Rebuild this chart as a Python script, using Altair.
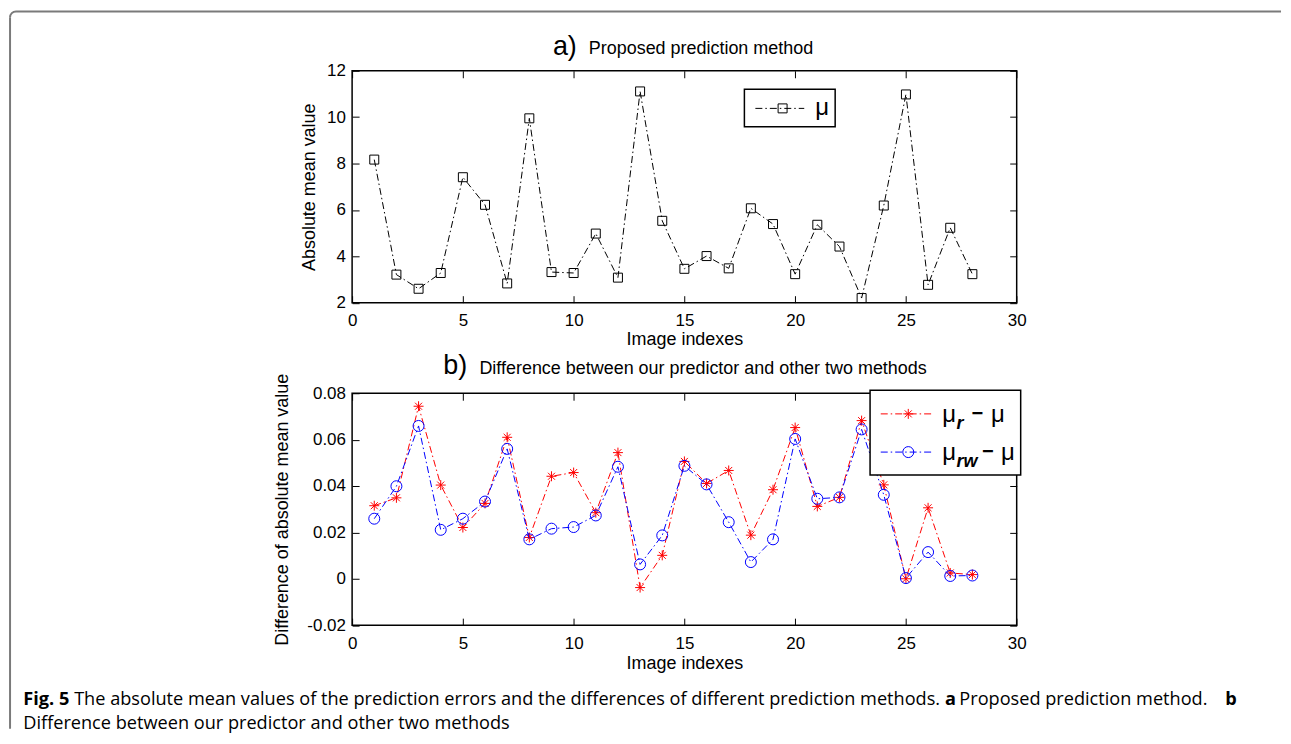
import altair as alt
import pandas as pd

# ---------------- data ----------------
idx = list(range(1, 29))
mu = [8.17, 3.21, 2.60, 3.28, 7.41, 6.22, 2.83, 9.95, 3.32, 3.28, 4.98, 3.08, 11.11, 5.53,
      3.46, 4.01, 3.48, 6.07, 5.39, 3.23, 5.36, 4.42, 2.20, 6.19, 10.98, 2.77, 5.23, 3.23]
mu_r_diff = [0.0315, 0.0349, 0.0744, 0.0404, 0.0221, 0.0325, 0.0610, 0.0178, 0.0442, 0.0458,
             0.0285, 0.0544, -0.0038, 0.0101, 0.0506, 0.0411, 0.0467, 0.0188, 0.0384, 0.0652,
             0.0312, 0.0351, 0.0682, 0.0405, 0.0000, 0.0306, 0.0025, 0.0018]
mu_rw_diff = [0.0259, 0.0399, 0.0659, 0.0211, 0.0259, 0.0333, 0.0560, 0.0170, 0.0216, 0.0223,
              0.0273, 0.0483, 0.0062, 0.0187, 0.0487, 0.0407, 0.0244, 0.0072, 0.0170, 0.0603,
              0.0345, 0.0351, 0.0644, 0.0362, 0.0003, 0.0115, 0.0012, 0.0014]
x_ticks = [0, 5, 10, 15, 20, 25, 30]
top_y_ticks = [2, 4, 6, 8, 10, 12]
bot_y_ticks = [-0.02, 0, 0.02, 0.04, 0.06, 0.08]

title_a = "a)"
title_a_text = "Proposed prediction method"
title_b = "b)"
title_b_text = "Difference between our predictor and other two methods"
x_title = "Image indexes"
y_title_top = "Absolute mean value"
y_title_bot = "Difference of absolute mean value"
caption_fig = "Fig. 5"
caption_main = "The absolute mean values of the prediction errors and the differences of different prediction methods."
caption_a = "a"
caption_a_text = "Proposed prediction method."
caption_b = "b"
caption_line2 = "Difference between our predictor and other two methods"

# ---------------- styling ----------------
FONT = "Liberation Sans"
CAP_FONT = "Open Sans"
CAP_SIZE = 18.2
W, H = 666.3, 232.5
DASHDOT = [7, 3, 1.5, 3]
ASTERISK = "M-1,0L1,0M0,-1L0,1M-0.7,-0.7L0.7,0.7M-0.7,0.7L0.7,-0.7"
INWARD = {"expr": "-7"}

one = pd.DataFrame({"k": [0]})


def txt(text, x, y, size, weight="normal", style="normal", align="left",
        baseline="alphabetic", font=FONT, color="black"):
    return alt.Chart(one).mark_text(
        text=text, fontSize=size, fontWeight=weight, fontStyle=style, align=align,
        baseline=baseline, font=font, color=color
    ).encode(x=alt.value(x), y=alt.value(y))


def hrule(x1, x2, y, color, dash=None, width=1.0):
    kw = dict(color=color, strokeWidth=width)
    if dash:
        kw["strokeDash"] = dash
    return alt.Chart(one).mark_rule(**kw).encode(
        x=alt.value(x1), x2=alt.value(x2), y=alt.value(y))


def vrule(x, y1, y2, color, width=1.0):
    return alt.Chart(one).mark_rule(color=color, strokeWidth=width).encode(
        x=alt.value(x), y=alt.value(y1), y2=alt.value(y2))


def box(x1, x2, y1, y2):
    return alt.Chart(one).mark_rect(fill="white", stroke="black", strokeWidth=1.5).encode(
        x=alt.value(x1), x2=alt.value(x2), y=alt.value(y1), y2=alt.value(y2))


def sym(x, y, shape, size, color):
    return alt.Chart(one).mark_point(shape=shape, size=size, filled=False, color=color,
                                     strokeWidth=1, opacity=1).encode(
        x=alt.value(x), y=alt.value(y))


xscale = alt.Scale(domain=[0, 30], nice=False, zero=False)


def main_x_axis(title_y):
    return alt.Axis(values=x_ticks, title=x_title, orient="bottom", tickSize=INWARD,
                    labelPadding=17, labelFlush=False, titleX=W / 2, titleY=title_y,
                    titleBaseline="middle", titleAlign="center")


def main_y_axis(values, title, title_x, label_expr=None):
    kw = dict(values=values, title=title, orient="left", tickSize=INWARD, labelPadding=13.7,
              titleX=title_x, titleY=H / 2, titleAngle=270, titleBaseline="middle",
              titleAlign="center", labelFlush=False)
    if label_expr:
        kw["labelExpr"] = label_expr
    return alt.Axis(**kw)


x_top_axis = alt.Axis(values=x_ticks, orient="top", labels=False, title=None, tickSize=INWARD)


def right_axis(values):
    return alt.Axis(values=values, orient="right", labels=False, title=None, tickSize=INWARD)


# ---------------- panel a ----------------
top_df = pd.DataFrame({"idx": idx, "mu": mu})
ytop = alt.Scale(domain=[2, 12], nice=False, zero=False)

top_line = alt.Chart(top_df).mark_line(color="black", strokeWidth=1, strokeDash=DASHDOT).encode(
    x=alt.X("idx:Q", scale=xscale, axis=main_x_axis(37.3)),
    y=alt.Y("mu:Q", scale=ytop, axis=main_y_axis(top_y_ticks, y_title_top, -42.7)),
)
top_pts = alt.Chart(top_df).mark_point(shape="square", size=81, filled=False, color="black",
                                       strokeWidth=1, opacity=1).encode(
    x=alt.X("idx:Q", scale=xscale, axis=x_top_axis),
    y=alt.Y("mu:Q", scale=ytop, axis=right_axis(top_y_ticks)),
)

# outer figure frame (decoration)
FX, FY = -342.95, -59.55
frame = [
    hrule(FX + 6, 931.3, FY, "#7a7a7a", width=2),
    vrule(FX, FY + 6, 659.7, "#7a7a7a", width=2),
    alt.Chart(one).mark_arc(fill="#7a7a7a").encode(
        x=alt.value(FX + 6), y=alt.value(FY + 6), radius=alt.value(7), radius2=alt.value(5),
        theta=alt.value(4.7124), theta2=alt.value(6.2832)),
]

top_legend = [
    box(393.3, 484.3, 18.4, 56),
    hrule(404.3, 453.3, 37.7, "black", DASHDOT),
    sym(431.6, 37.7, "square", 81, "black"),
    txt("μ", 464.3, 44.7, 24),
]
top_titles = [
    txt(title_a, 201.3, -16.3, 27),
    txt(title_a_text, 237.3, -16.6, 18),
]

top = alt.layer(top_line, top_pts, *top_legend, *top_titles, *frame).resolve_axis(
    x="independent", y="independent").properties(width=W, height=H)

# ---------------- panel b ----------------
bot_df = pd.DataFrame({"idx": idx, "r": mu_r_diff, "rw": mu_rw_diff})
ybot = alt.Scale(domain=[-0.02, 0.08], nice=False, zero=False)
bot_label = ("abs(datum.value) < 1e-9 ? '0' : (datum.value < 0 ? '-' + format(-datum.value, '.2f') "
             ": format(datum.value, '.2f'))")

r_line = alt.Chart(bot_df).mark_line(color="#ff0000", strokeWidth=1, strokeDash=DASHDOT).encode(
    x=alt.X("idx:Q", scale=xscale, axis=main_x_axis(38.4)),
    y=alt.Y("r:Q", scale=ybot, axis=main_y_axis(bot_y_ticks, y_title_bot, -69.7, bot_label)),
)
r_pts = alt.Chart(bot_df).mark_point(shape=ASTERISK, size=100, filled=False, color="#ff0000",
                                     strokeWidth=1, opacity=1).encode(
    x=alt.X("idx:Q", scale=xscale, axis=x_top_axis),
    y=alt.Y("r:Q", scale=ybot, axis=right_axis(bot_y_ticks)),
)
rw_line = alt.Chart(bot_df).mark_line(color="#0000ff", strokeWidth=1, strokeDash=DASHDOT).encode(
    x=alt.X("idx:Q", scale=xscale, axis=None),
    y=alt.Y("rw:Q", scale=ybot, axis=None),
)
rw_pts = alt.Chart(bot_df).mark_point(shape="circle", size=121, filled=False, color="#0000ff",
                                      strokeWidth=1, opacity=1).encode(
    x=alt.X("idx:Q", scale=xscale, axis=None),
    y=alt.Y("rw:Q", scale=ybot, axis=None),
)

bot_legend = [
    box(519.3, 670.3, -3, 82),
    hrule(530, 583.3, 20.7, "#ff0000", DASHDOT),
    sym(557.6, 20.7, ASTERISK, 100, "#ff0000"),
    hrule(530, 583.3, 59, "#0000ff", DASHDOT),
    sym(557.6, 59, "circle", 121, "#0000ff"),
    txt("μ", 591.6, 29, 24),
    txt("r", 606, 35.7, 18, weight="bold", style="italic"),
    txt("−", 621, 20.7, 20, weight="bold", baseline="middle"),
    txt("μ", 640.6, 29, 24),
    txt("μ", 591.6, 67, 24),
    txt("rw", 606, 74, 18, weight="bold", style="italic"),
    txt("−", 631.6, 59, 20, weight="bold", baseline="middle"),
    txt("μ", 650.6, 67, 24),
]
bot_titles = [
    txt(title_b, 91.3, -19.3, 27),
    txt(title_b_text, 127.6, -19.3, 18),
]
caption = [
    txt(caption_fig, -329.7, 313, CAP_SIZE, weight="bold", font=CAP_FONT),
    txt(caption_main, -278.7, 313, CAP_SIZE, font=CAP_FONT),
    txt(caption_a, 594.3, 313, CAP_SIZE, weight="bold", font=CAP_FONT),
    txt(caption_a_text, 608.8, 313, CAP_SIZE, font=CAP_FONT),
    txt(caption_b, 875.3, 313, CAP_SIZE, weight="bold", font=CAP_FONT),
    txt(caption_line2, -329.7, 337, CAP_SIZE, font=CAP_FONT),
]

bottom = alt.layer(r_line, r_pts, rw_line, rw_pts, *bot_legend, *bot_titles, *caption).resolve_axis(
    x="independent", y="independent").properties(width=W, height=H)

chart = alt.vconcat(top, bottom, spacing=90.3, bounds="flush", padding=0).configure_view(
    stroke="black", strokeWidth=1.5
).configure_axis(
    grid=False, domain=False, tickColor="black", tickWidth=1,
    labelFont=FONT, labelFontSize=17, labelColor="black",
    titleFont=FONT, titleFontSize=18, titleFontWeight="normal", titleColor="black",
).properties(background="white")

chart.save("out.html", embed_options={"renderer": "svg", "actions": False})
